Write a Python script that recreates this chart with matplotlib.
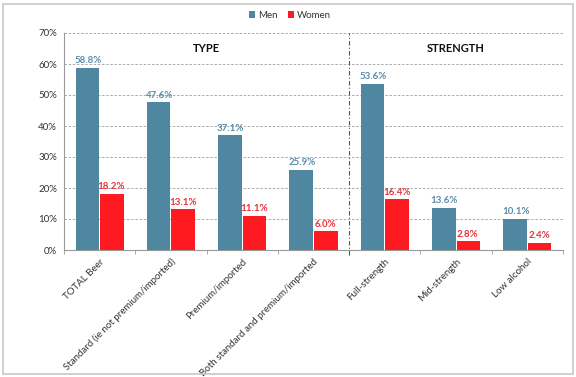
import matplotlib
matplotlib.use("Agg")
import matplotlib.pyplot as plt
from matplotlib.patches import Rectangle
import numpy as np

categories = ["TOTAL Beer", "Standard (ie not premium/imported)", "Premium/imported",
              "Both standard and premium/imported", "Full-strength", "Mid-strength", "Low alcohol"]
men = [58.8, 47.6, 37.1, 25.9, 53.6, 13.6, 10.1]
women = [18.2, 13.1, 11.1, 6.0, 16.4, 2.8, 2.4]
yticks = [0, 10, 20, 30, 40, 50, 60, 70]

men_color = "#4F86A0"
women_color = "#FF1A22"
men_lbl = "#5A8CA8"
women_lbl = "#E8323C"

plt.rcParams['font.family'] = ['Lato', 'DejaVu Sans']

fig = plt.figure(figsize=(5.76, 3.77), dpi=100)
ax = fig.add_axes([64/576, 1-250/377, (563-64)/576, (250-33)/377])

x = np.arange(len(categories))
w = 0.33
ax.bar(x - w/2 - 0.008, men, w, color=men_color, label="Men", zorder=3)
ax.bar(x + w/2 + 0.008, women, w, color=women_color, label="Women", zorder=3)

for xi, m, f in zip(x, men, women):
    ax.text(xi - w/2, m + 0.8, f"{m:.1f}%", ha="center", va="bottom", fontsize=7,
            color=men_lbl, fontweight="bold")
    ax.text(xi + w/2, f + 0.8, f"{f:.1f}%", ha="center", va="bottom", fontsize=7,
            color=women_lbl, fontweight="bold")

ax.set_xlim(-0.5, len(categories) - 0.5)
ax.set_ylim(0, 70)
ax.set_yticks(yticks)
ax.set_yticklabels([f"{v}%" for v in yticks], fontsize=7, color="#333333")
ax.yaxis.grid(True, linestyle=(0, (3, 2)), color="#A0A0A0", linewidth=0.6, zorder=0)
ax.tick_params(axis="y", length=0, pad=5)

ax.set_xticks(x)
ax.set_xticklabels(categories, rotation=45, ha="right", rotation_mode="anchor",
                   fontsize=7, color="#333333")
ax.set_xticks(np.arange(-0.5, len(categories), 1), minor=True)
ax.tick_params(axis="x", which="major", length=0, pad=5)
ax.tick_params(axis="x", which="minor", length=3, color="#999999")

for s in ["top", "right"]:
    ax.spines[s].set_visible(False)
ax.spines["left"].set_color("#999999")
ax.spines["bottom"].set_color("#999999")

ax.plot([3.5, 3.5], [-1.5, 70], linestyle=(0, (4, 2, 1, 2)), color="#555555",
        linewidth=0.8, clip_on=False, zorder=4)

ax.text(1.5, 65, "TYPE", ha="center", va="center", fontsize=8, fontweight="bold", color="#111111")
ax.text(5.0, 65, "STRENGTH", ha="center", va="center", fontsize=8, fontweight="bold", color="#111111")

leg = fig.legend(loc="center", bbox_to_anchor=(290/576, 1-15/377), ncol=2, frameon=False,
                 fontsize=7, handlelength=0.7, handleheight=0.7, columnspacing=1.0,
                 handletextpad=0.3)
for t in leg.get_texts():
    t.set_color("#333333")

fig.patches.append(Rectangle((3/576, 3/377), 570/576, 370/377, transform=fig.transFigure,
                             fill=False, edgecolor="#C8C8C8", linewidth=1.2))

fig.savefig("out.png", dpi=100)
